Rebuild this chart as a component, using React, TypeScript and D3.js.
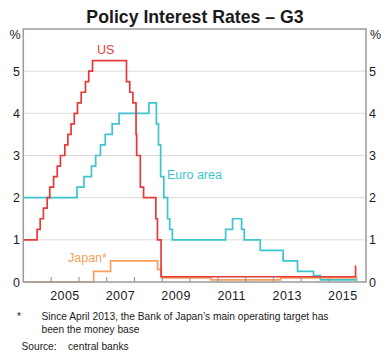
import React, { useEffect, useRef } from 'react';
import * as d3 from 'd3';

// Policy rates, step changes (date the new rate took effect, %)
const usDates = [
  '2004-01-01', '2004-06-30', '2004-08-10', '2004-09-21', '2004-11-10', '2004-12-14',
  '2005-02-02', '2005-03-22', '2005-05-03', '2005-06-30', '2005-08-09', '2005-09-20',
  '2005-11-01', '2005-12-13', '2006-01-31', '2006-03-28', '2006-05-10', '2006-06-29',
  '2007-09-18', '2007-10-31', '2007-12-11', '2008-01-22', '2008-01-30', '2008-03-18',
  '2008-04-30', '2008-10-08', '2008-10-29', '2008-12-16', '2015-12-16', '2015-12-20',
];
const usRates = [
  1.0, 1.25, 1.5, 1.75, 2.0, 2.25,
  2.5, 2.75, 3.0, 3.25, 3.5, 3.75,
  4.0, 4.25, 4.5, 4.75, 5.0, 5.25,
  4.75, 4.5, 4.25, 3.5, 3.0, 2.25,
  2.0, 1.5, 1.0, 0.125, 0.375, 0.375,
];

const euroDates = [
  '2004-01-01', '2005-12-06', '2006-03-08', '2006-06-15', '2006-08-09', '2006-10-11',
  '2006-12-13', '2007-03-14', '2007-06-13', '2008-07-09', '2008-10-15', '2008-11-12',
  '2008-12-10', '2009-01-21', '2009-03-11', '2009-04-08', '2009-05-13', '2011-04-13',
  '2011-07-13', '2011-11-09', '2011-12-14', '2012-07-11', '2013-05-08', '2013-11-13',
  '2014-06-11', '2014-09-10', '2015-12-20',
];
const euroRates = [
  2.0, 2.25, 2.5, 2.75, 3.0, 3.25,
  3.5, 3.75, 4.0, 4.25, 3.75, 3.25,
  2.5, 2.0, 1.5, 1.25, 1.0, 1.25,
  1.5, 1.25, 1.0, 0.75, 0.5, 0.25,
  0.15, 0.05, 0.05,
];

const japanDates = [
  '2004-01-01', '2006-07-14', '2007-02-21', '2008-10-31', '2008-12-19', '2010-10-05',
  '2013-04-04', '2015-12-20',
];
const japanRates = [0.0, 0.25, 0.5, 0.3, 0.1, 0.05, 0.1, 0.1];

const yTicks = [0, 1, 2, 3, 4, 5];
const yearTicks = [2005, 2006, 2007, 2008, 2009, 2010, 2011, 2012, 2013, 2014, 2015, 2016];
const yearLabels = [2005, 2007, 2009, 2011, 2013, 2015];

const FONT = '"Liberation Sans", Arial, sans-serif';

export default function App() {
  const ref = useRef<SVGSVGElement | null>(null);

  useEffect(() => {
    if (!ref.current) return;
    const svg = d3.select(ref.current);
    svg.selectAll('*').remove();

    const width = 390;
    const height = 354;
    const left = 23.3;
    const right = 366;
    const top = 29;
    const bottom = 282;

    const parse = d3.timeParse('%Y-%m-%d');
    const x = d3.scaleTime()
      .domain([new Date(2004, 0, 1), new Date(2016, 4, 1)])
      .range([left, right]);
    const y = d3.scaleLinear().domain([0, 6]).range([bottom, top]);

    svg.attr('width', width).attr('height', height)
      .style('font-family', FONT);

    // title
    svg.append('text')
      .attr('x', 195).attr('y', 23)
      .attr('text-anchor', 'middle')
      .attr('font-size', 17.7).attr('font-weight', 'bold')
      .attr('fill', '#1a1a1a')
      .text('Policy Interest Rates – G3');

    // gridlines
    svg.append('g').selectAll('line')
      .data(yTicks.filter(d => d > 0))
      .enter().append('line')
      .attr('x1', left).attr('x2', right)
      .attr('y1', d => y(d)).attr('y2', d => y(d))
      .attr('stroke', '#dcdcdc').attr('stroke-width', 1);

    // lines
    const line = d3.line<[Date, number]>()
      .x(d => x(d[0]))
      .y(d => y(d[1]))
      .curve(d3.curveStepAfter);

    const series = [
      { dates: japanDates, rates: japanRates, color: '#f5a05c' },
      { dates: euroDates, rates: euroRates, color: '#3ec4cf' },
      { dates: usDates, rates: usRates, color: '#e63a3a' },
    ];
    series.forEach(s => {
      const pts: [Date, number][] = s.dates.map((d, i) => [parse(d) as Date, s.rates[i]]);
      svg.append('path')
        .datum(pts)
        .attr('fill', 'none')
        .attr('stroke', s.color)
        .attr('stroke-width', 1.7)
        .attr('d', line);
    });

    // frame
    svg.append('rect')
      .attr('x', left).attr('y', top)
      .attr('width', right - left).attr('height', bottom - top)
      .attr('fill', 'none').attr('stroke', '#9a9a9a').attr('stroke-width', 1.5);

    // year ticks (inside, upward)
    svg.append('g').selectAll('line')
      .data(yearTicks)
      .enter().append('line')
      .attr('x1', d => x(new Date(d, 0, 1))).attr('x2', d => x(new Date(d, 0, 1)))
      .attr('y1', bottom).attr('y2', bottom - 5)
      .attr('stroke', '#9a9a9a').attr('stroke-width', 1.2);

    // year labels centred in the year
    svg.append('g').selectAll('text')
      .data(yearLabels)
      .enter().append('text')
      .attr('x', d => x(new Date(d, 6, 1)))
      .attr('y', 300)
      .attr('text-anchor', 'middle')
      .attr('font-size', 12.5).attr('fill', '#1a1a1a')
      .attr('letter-spacing', 0.4)
      .text(d => d);

    // y labels both sides
    const yl = svg.append('g').attr('font-size', 12.5).attr('fill', '#1a1a1a');
    yl.selectAll('text.l')
      .data(yTicks).enter().append('text')
      .attr('class', 'l')
      .attr('x', 20).attr('y', d => y(d))
      .attr('dy', '0.36em').attr('text-anchor', 'end')
      .text(d => d);
    yl.selectAll('text.r')
      .data(yTicks).enter().append('text')
      .attr('class', 'r')
      .attr('x', 369).attr('y', d => y(d))
      .attr('dy', '0.36em').attr('text-anchor', 'start')
      .text(d => d);
    yl.append('text').attr('x', 20.5).attr('y', 39).attr('text-anchor', 'end').text('%');
    yl.append('text').attr('x', 370).attr('y', 39).attr('text-anchor', 'start').text('%');

    // series labels
    svg.append('text').attr('x', 97).attr('y', 53.5)
      .attr('font-size', 12.5).attr('fill', '#e63a3a').text('US');
    svg.append('text').attr('x', 167).attr('y', 179)
      .attr('font-size', 12.5).attr('fill', '#3ec4cf').text('Euro area');
    svg.append('text').attr('x', 68).attr('y', 262)
      .attr('font-size', 12.5).attr('fill', '#f5a05c').text('Japan*');

    // footnotes
    const fn = svg.append('g').attr('font-size', 10.2).attr('fill', '#1a1a1a');
    fn.append('text').attr('x', 17).attr('y', 320).text('*');
    fn.append('text').attr('x', 41.5).attr('y', 320)
      .text('Since April 2013, the Bank of Japan\u2019s main operating target has');
    fn.append('text').attr('x', 41.5).attr('y', 333).text('been the money base');
    fn.append('text').attr('x', 21.5).attr('y', 350).text('Source:');
    fn.append('text').attr('x', 68).attr('y', 350).text('central banks');
  }, []);

  return (
    <div style={{ position: 'absolute', left: 0, top: 0 }}>
      <svg ref={ref} />
    </div>
  );
}
